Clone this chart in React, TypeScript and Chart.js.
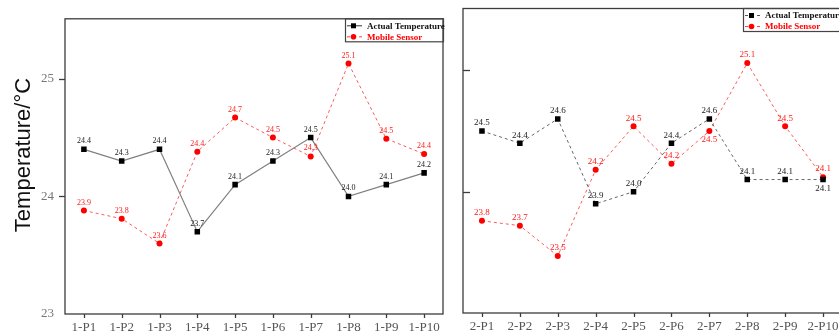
import React, { useEffect, useRef } from "react";
import { Chart, registerables } from "chart.js";

Chart.register(...registerables);

const categories1 = ["1-P1", "1-P2", "1-P3", "1-P4", "1-P5", "1-P6", "1-P7", "1-P8", "1-P9", "1-P10"];
const actual1 = [24.4, 24.3, 24.4, 23.7, 24.1, 24.3, 24.5, 24.0, 24.1, 24.2];
const mobile1 = [23.88, 23.81, 23.6, 24.38, 24.67, 24.5, 24.34, 25.13, 24.49, 24.36];

const categories2 = ["2-P1", "2-P2", "2-P3", "2-P4", "2-P5", "2-P6", "2-P7", "2-P8", "2-P9", "2-P10"];
const actual2 = [24.5, 24.4, 24.6, 23.9, 24.0, 24.4, 24.6, 24.1, 24.1, 24.1];
const mobile2 = [23.76, 23.72, 23.47, 24.18, 24.54, 24.23, 24.5, 25.06, 24.54, 24.12];

const yTickValues = [23, 24, 25];
const seriesNames = ["Actual Temperature", "Mobile Sensor"];
const yTitle = "Temperature/°C";

const SERIF = "'Liberation Serif', 'Times New Roman', serif";
const SANS = "'Liberation Sans', Arial, sans-serif";

type PanelCfg = {
  categories: string[];
  actual: number[];
  mobile: number[];
  side: "left" | "right";
  canvasWidth: number;
  canvasLeft: number;
  paddingTop: number;
  paddingRight: number;
  yWidth: number;
  xHeight: number;
  legendX: number;
  labelSize: number;
  below: { [ds: number]: number[] };
};

function makeChart(canvas: HTMLCanvasElement, cfg: PanelCfg) {
  const dashedActual = cfg.side === "right";

  const framePlugin = {
    id: "frame",
    afterDraw(chart: any) {
      const ctx = chart.ctx;
      const { left, right, top, bottom } = chart.chartArea;
      ctx.save();
      ctx.strokeStyle = "#3c3c3c";
      ctx.lineWidth = 1.3;
      ctx.strokeRect(left, top, right - left, bottom - top);
      const ys = chart.scales.y;
      [24, 25].forEach((v) => {
        const py = Math.round(ys.getPixelForValue(v)) + 0.5;
        ctx.beginPath();
        if (cfg.side === "left") {
          ctx.moveTo(left - 6, py);
          ctx.lineTo(left, py);
        } else {
          ctx.moveTo(left, py);
          ctx.lineTo(left + 7, py);
        }
        ctx.stroke();
      });
      const xs = chart.scales.x;
      cfg.categories.forEach((_, i) => {
        const px = Math.round(xs.getPixelForValue(i)) + 0.5;
        ctx.beginPath();
        ctx.moveTo(px, bottom);
        ctx.lineTo(px, bottom + 4);
        ctx.stroke();
      });

      // legend
      const lx = cfg.legendX;
      const lt = top;
      ctx.lineWidth = 1.2;
      ctx.strokeStyle = "#444";
      ctx.strokeRect(lx + 0.5, lt, right - lx, 23);
      const rows = [lt + 7, lt + 18];
      ctx.beginPath();
      ctx.strokeStyle = dashedActual ? "#555" : "#333";
      ctx.lineWidth = 1;
      ctx.setLineDash(dashedActual ? [3, 3] : []);
      ctx.moveTo(lx + 2, rows[0]);
      ctx.lineTo(lx + 17, rows[0]);
      ctx.stroke();
      ctx.setLineDash([]);
      ctx.fillStyle = "#000";
      ctx.fillRect(lx + 6, rows[0] - 2.5, 5, 5);
      ctx.beginPath();
      ctx.strokeStyle = "#ff4040";
      ctx.setLineDash([3, 3]);
      ctx.moveTo(lx + 2, rows[1]);
      ctx.lineTo(lx + 17, rows[1]);
      ctx.stroke();
      ctx.setLineDash([]);
      ctx.fillStyle = "#ff0000";
      ctx.beginPath();
      ctx.arc(lx + 8.5, rows[1], 2.8, 0, Math.PI * 2);
      ctx.fill();
      ctx.font = `bold 9px ${SERIF}`;
      ctx.textAlign = "left";
      ctx.textBaseline = "middle";
      ctx.fillStyle = "#111";
      ctx.fillText(seriesNames[0], lx + 22, rows[0] + 0.5);
      ctx.fillStyle = "#ff0000";
      ctx.fillText(seriesNames[1], lx + 22, rows[1] + 0.5);

      if (cfg.side === "left") {
        ctx.save();
        ctx.translate(24, 155);
        ctx.rotate(-Math.PI / 2);
        ctx.font = `22px ${SANS}`;
        ctx.fillStyle = "#111";
        ctx.textAlign = "center";
        ctx.textBaseline = "middle";
        ctx.fillText(yTitle, 0, 0);
        ctx.restore();
      }
      ctx.restore();
    },
  };

  const labelPlugin = {
    id: "pointLabels",
    afterDatasetsDraw(chart: any) {
      const ctx = chart.ctx;
      ctx.save();
      ctx.font = `${cfg.labelSize}px ${SERIF}`;
      ctx.textAlign = "center";
      ctx.textBaseline = "middle";
      chart.data.datasets.forEach((ds: any, di: number) => {
        const meta = chart.getDatasetMeta(di);
        ctx.fillStyle = di === 0 ? "#222" : "#ff1a1a";
        meta.data.forEach((pt: any, i: number) => {
          const isBelow = (cfg.below[di] || []).includes(i);
          const ty = isBelow ? pt.y + 9 : pt.y - 8;
          ctx.fillText(Number(ds.data[i]).toFixed(1), pt.x, ty);
        });
      });
      ctx.restore();
    },
  };

  return new Chart(canvas, {
    type: "line",
    data: {
      labels: cfg.categories,
      datasets: [
        {
          label: seriesNames[0],
          data: cfg.actual,
          borderColor: dashedActual ? "#666" : "#808080",
          borderWidth: dashedActual ? 1 : 1.2,
          borderDash: dashedActual ? [3, 3] : [],
          pointStyle: "rect",
          pointRadius: 3.9,
          pointBackgroundColor: "#000",
          pointBorderColor: "#000",
          pointBorderWidth: 0,
          tension: 0,
        },
        {
          label: seriesNames[1],
          data: cfg.mobile,
          borderColor: "#ff5a5a",
          borderWidth: 1,
          borderDash: [3, 3],
          pointStyle: "circle",
          pointRadius: 3,
          pointBackgroundColor: "#ff0000",
          pointBorderColor: "#ff0000",
          pointBorderWidth: 0,
          tension: 0,
        },
      ],
    },
    options: {
      responsive: false,
      animation: false,
      layout: { padding: { left: 0, top: cfg.paddingTop, right: cfg.paddingRight, bottom: 0 } },
      plugins: { legend: { display: false }, tooltip: { enabled: false } },
      scales: {
        x: {
          type: "category",
          offset: true,
          grid: { display: false, drawTicks: false },
          border: { display: false },
          ticks: {
            font: { family: SERIF, size: 13 },
            color: "#555",
            padding: 6,
            maxRotation: 0,
            autoSkip: false,
          },
          afterFit: (s: any) => {
            s.height = cfg.xHeight;
          },
        },
        y: {
          min: 23,
          max: 25.51,
          grid: { display: false, drawTicks: false },
          border: { display: false },
          ticks: {
            display: cfg.side === "left",
            font: { family: SERIF, size: 13 },
            color: "#777",
            padding: 11,
          },
          afterBuildTicks: (s: any) => {
            s.ticks = yTickValues.map((v) => ({ value: v }));
          },
          afterFit: (s: any) => {
            s.width = cfg.yWidth;
          },
        },
      },
    },
    plugins: [framePlugin, labelPlugin],
  } as any);
}

function Panel({ cfg }: { cfg: PanelCfg }) {
  const ref = useRef<HTMLCanvasElement>(null);
  useEffect(() => {
    const chart = makeChart(ref.current!, cfg);
    return () => chart.destroy();
  }, []);
  return (
    <canvas
      ref={ref}
      width={cfg.canvasWidth}
      height={336}
      style={{ position: "absolute", left: cfg.canvasLeft, top: 0, width: cfg.canvasWidth, height: 336 }}
    />
  );
}

const leftCfg: PanelCfg = {
  categories: categories1,
  actual: actual1,
  mobile: mobile1,
  side: "left",
  canvasWidth: 455,
  canvasLeft: 0,
  paddingTop: 10,
  paddingRight: 12,
  yWidth: 65,
  xHeight: 22,
  legendX: 345,
  labelSize: 8,
  below: {},
};

const rightCfg: PanelCfg = {
  categories: categories2,
  actual: actual2,
  mobile: mobile2,
  side: "right",
  canvasWidth: 400,
  canvasLeft: 455,
  paddingTop: 8.5,
  paddingRight: 13,
  yWidth: 8,
  xHeight: 23,
  legendX: 288,
  labelSize: 9,
  below: { 0: [9], 1: [6] },
};

export default function App() {
  return (
    <div
      style={{
        position: "fixed",
        left: 0,
        top: 0,
        width: 839,
        height: 336,
        overflow: "hidden",
        background: "#fff",
      }}
    >
      <Panel cfg={leftCfg} />
      <Panel cfg={rightCfg} />
    </div>
  );
}
